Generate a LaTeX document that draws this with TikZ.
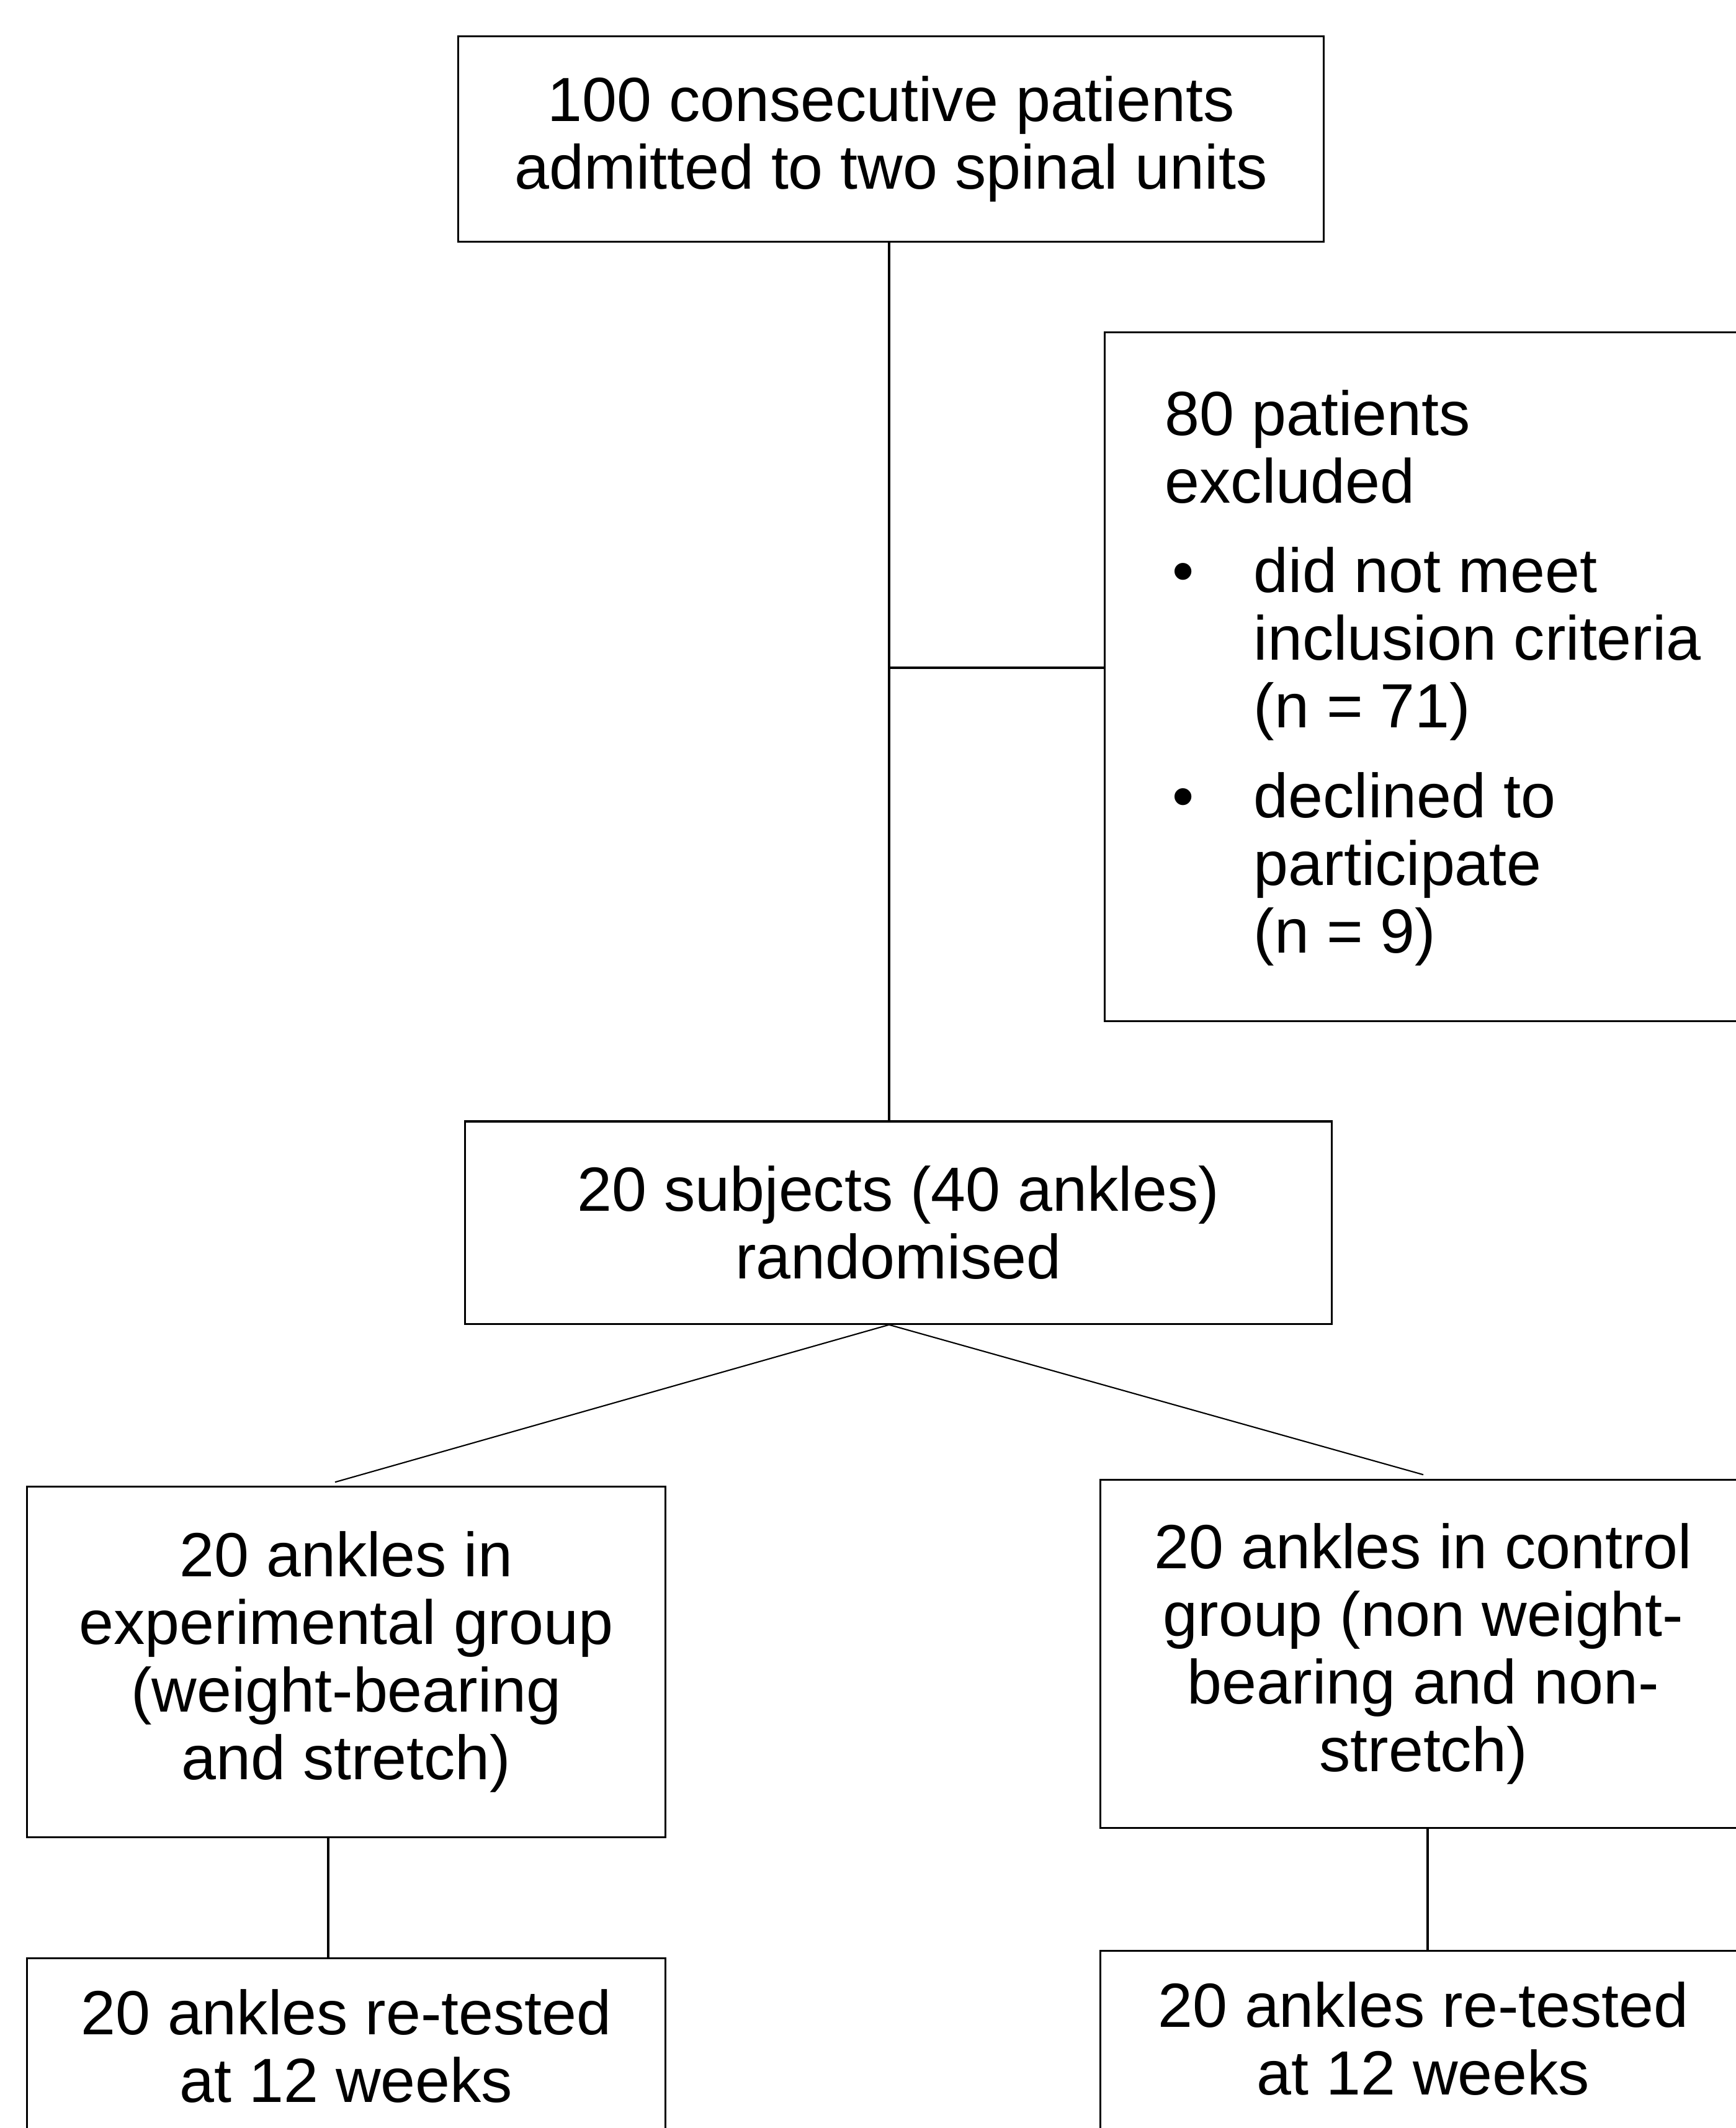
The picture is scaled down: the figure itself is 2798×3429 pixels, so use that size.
\documentclass[tikz,border=0pt]{standalone}
\usepackage{fontspec}
\setmainfont{Liberation Sans}
\begin{document}
\begin{tikzpicture}[x=0.01cm,y=-0.01cm,
  txt/.style={font=\fontsize{28.6pt}{31pt}\selectfont},
  box/.style={draw, line width=0.9pt, inner sep=0pt, align=center, txt},
  plain/.style={inner sep=0pt, align=center, txt},
  conn/.style={line width=0.9pt},
  diag/.style={line width=0.6pt}]
\useasboundingbox (0,0) rectangle (2798,3429);
% boxes
\node[box, minimum width=13.94cm, minimum height=3.30cm] (b1) at (1436,224)
  {100 consecutive patients\\admitted to two spinal units};
\node[box, minimum width=10.60cm, minimum height=11.09cm] (excl) at (2311,1090.5) {};
\node[anchor=north west, inner sep=0pt, align=left, txt] (excltext) at (1877,628)
  {80 patients\\excluded\\[10pt]
   \makebox[1.43cm][l]{\hspace{0.12cm}\textbullet}did not meet\\
   \hspace*{1.43cm}inclusion criteria\\
   \hspace*{1.43cm}(n = 71)\\[10pt]
   \makebox[1.43cm][l]{\hspace{0.12cm}\textbullet}declined to\\
   \hspace*{1.43cm}participate\\
   \hspace*{1.43cm}(n = 9)};
\node[box, minimum width=13.96cm, minimum height=3.26cm] (b2) at (1448,1970)
  {20 subjects (40 ankles)\\randomised};
\node[box, minimum width=10.28cm, minimum height=5.64cm] (b3) at (558,2678)
  {20 ankles in\\experimental group\\(weight-bearing\\and stretch)};
\node[box, minimum width=10.40cm, minimum height=5.60cm] (b4) at (2294,2665)
  {20 ankles in control\\group (non weight-\\bearing and non-\\stretch)};
% bottom boxes run past the lower edge of the page
\node[box, anchor=north, minimum width=10.28cm, minimum height=4.00cm] (b5) at (558,3154) {};
\node[plain] (b5t) at (558,3297) {20 ankles re-tested\\at 12 weeks};
\node[box, anchor=north, minimum width=10.40cm, minimum height=4.00cm] (b6) at (2294,3142) {};
\node[plain] (b6t) at (2294,3285) {20 ankles re-tested\\at 12 weeks};
% connectors
\coordinate (br) at (1433,1076);
\draw[conn] ([xshift=-0.03cm]b1.south) -- ([xshift=-0.03cm]b1.south |- b2.north);
\draw[conn] (br) -- (br -| excl.west);
\draw[diag] ([xshift=-0.15cm]b2.south) -- ([xshift=-0.18cm,yshift=0.06cm]b3.north);
\draw[diag] ([xshift=-0.15cm]b2.south) -- ([yshift=0.07cm]b4.north);
\draw[conn] ([xshift=-0.29cm]b3.south) -- ([xshift=-0.29cm]b3.south |- b5.north);
\draw[conn] ([xshift=0.07cm]b4.south) -- ([xshift=0.07cm]b4.south |- b6.north);
\end{tikzpicture}
\end{document}
